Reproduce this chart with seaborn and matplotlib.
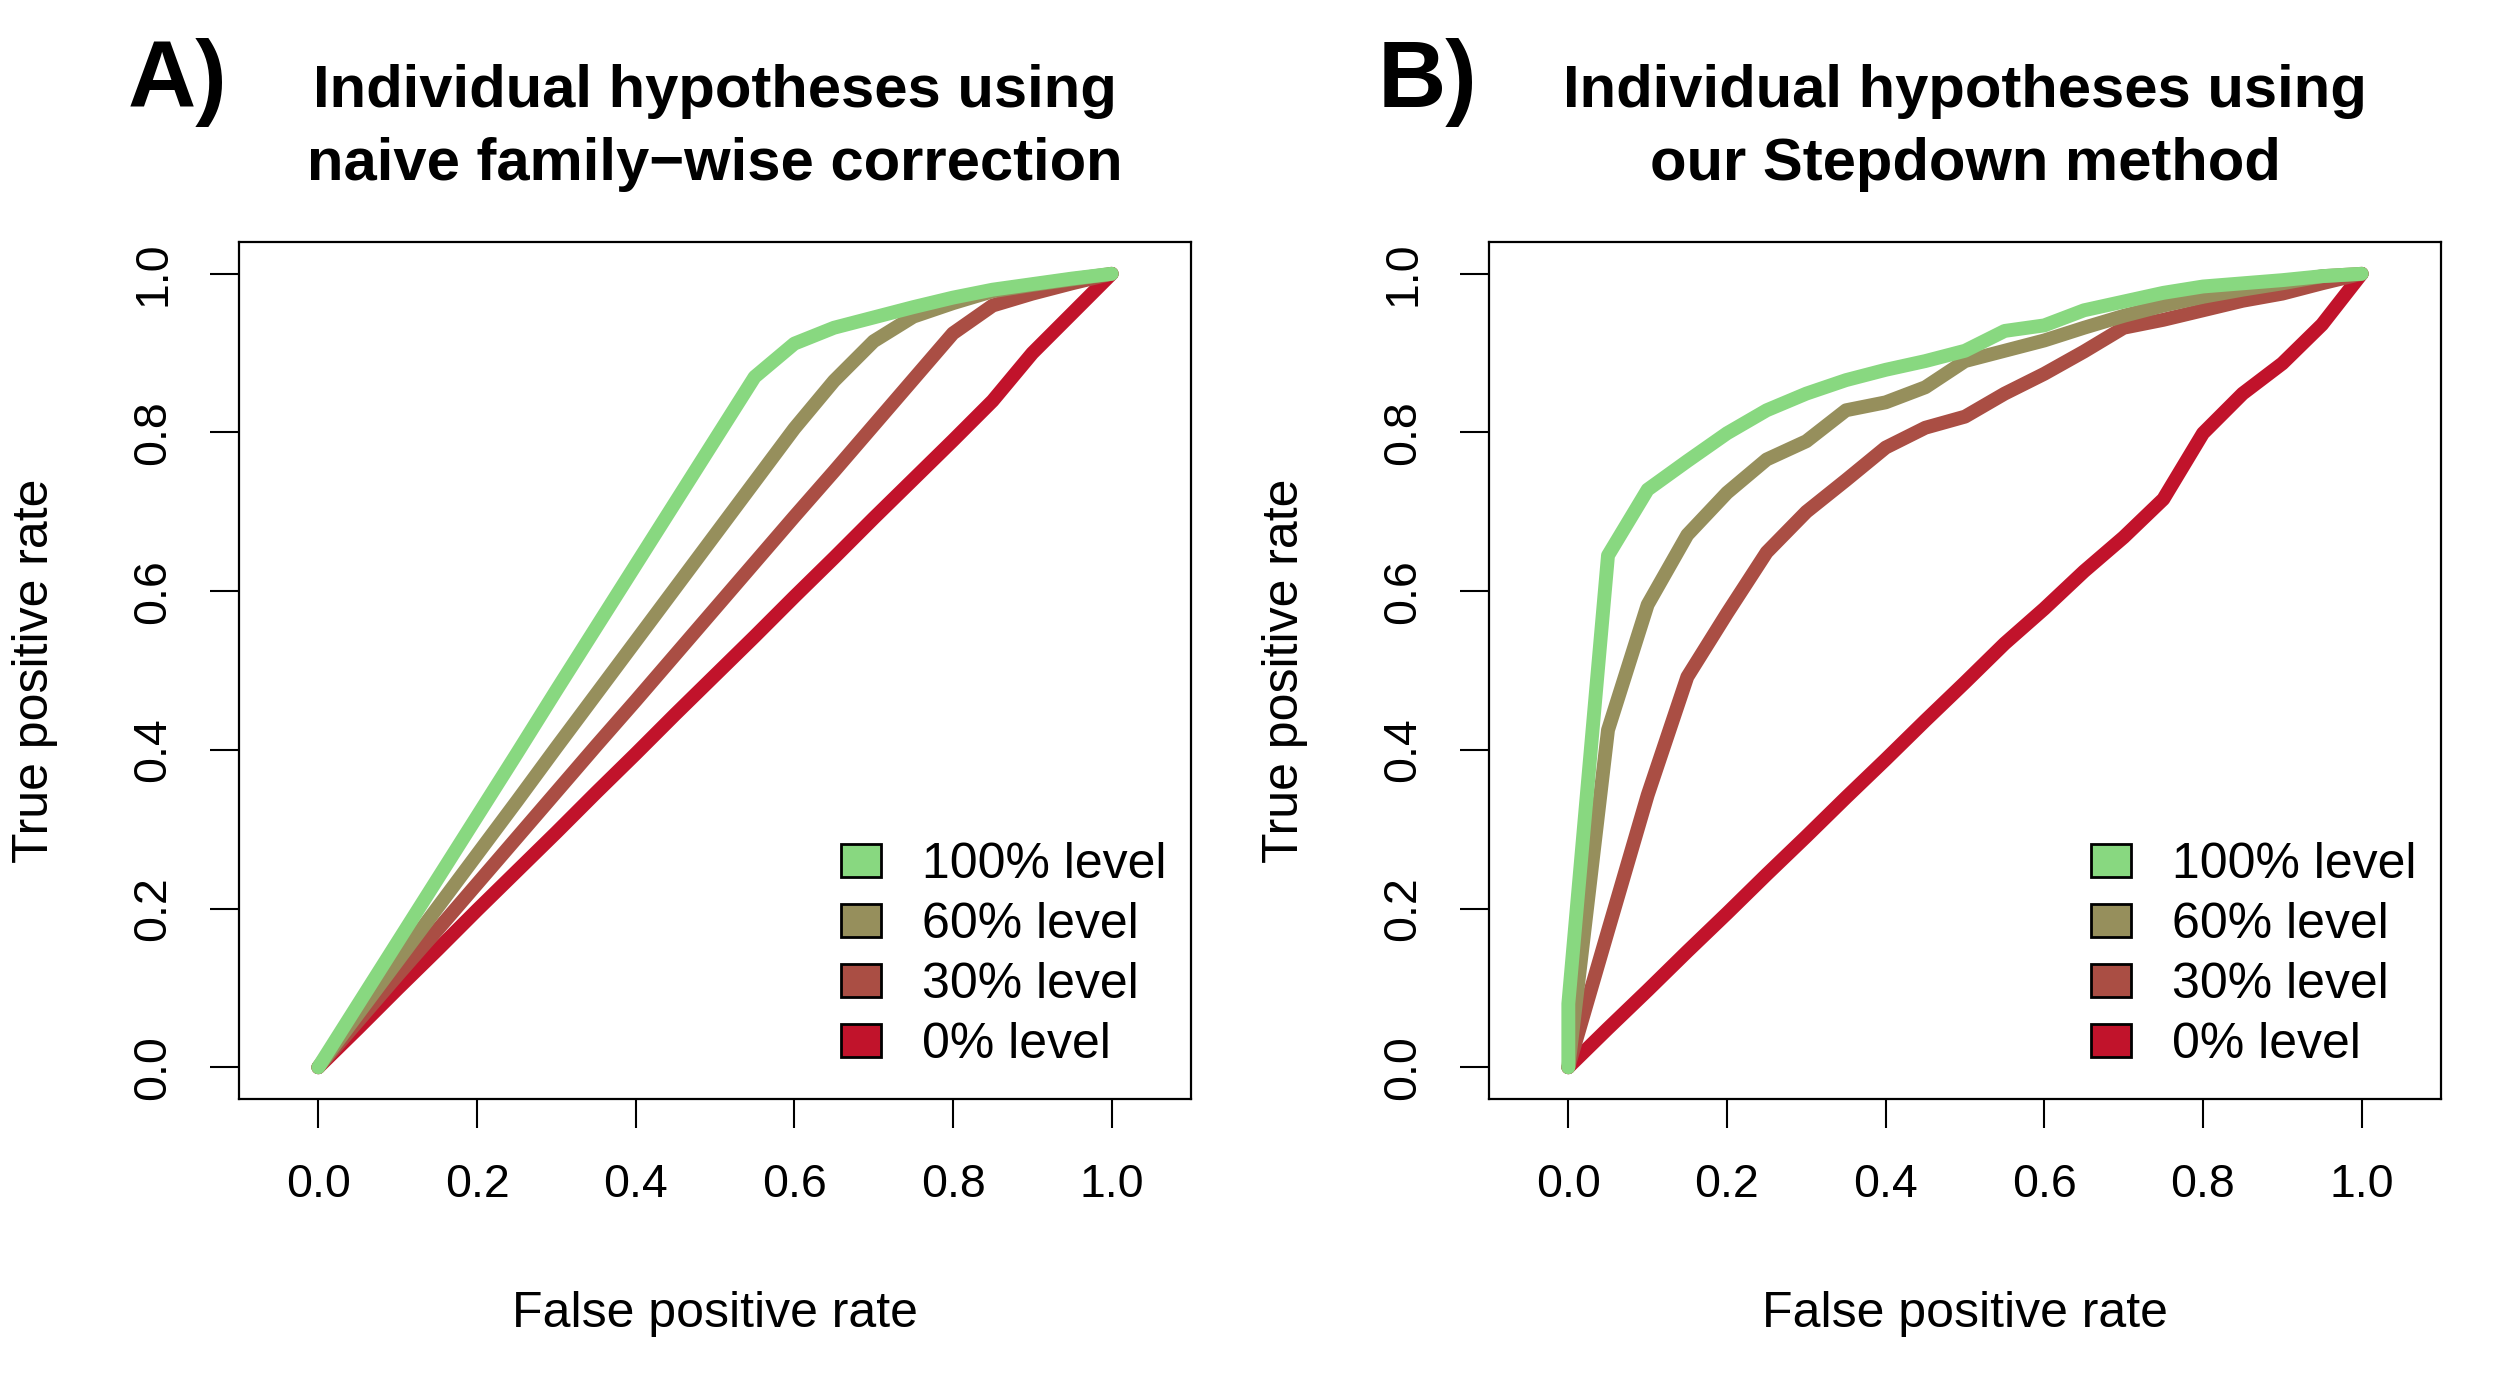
import matplotlib
matplotlib.use("Agg")
import matplotlib.pyplot as plt
from matplotlib.patches import Patch
import numpy as np
import pandas as pd
import seaborn as sns

# Niveles (orden de la leyenda) y colores
LEVELS = ["100% level", "60% level", "30% level", "0% level"]
COLORS = ["#88D880", "#968F5C", "#AA4E44", "#C1132B"]

TITLES = ["Individual hypotheses using\nnaive family\u2212wise correction",
          "Individual hypotheses using\nour Stepdown method"]
PANEL_TAGS = ["A)", "B)"]

TICKS = [0.0, 0.2, 0.4, 0.6, 0.8, 1.0]
TICK_LABELS = ["0.0", "0.2", "0.4", "0.6", "0.8", "1.0"]

# Tasa de falsos positivos (rejilla comun)
FPR = [0.0, 0.05, 0.1, 0.15, 0.2, 0.25, 0.3, 0.35, 0.4, 0.45, 0.5,
       0.55, 0.6, 0.65, 0.7, 0.75, 0.8, 0.85, 0.9, 0.95, 1.0]

# Panel A: correccion family-wise ingenua
A_100 = [0, 0.079, 0.158, 0.237, 0.316, 0.395, 0.475, 0.554, 0.633, 0.712, 0.791,
         0.87, 0.912, 0.932, 0.945, 0.958, 0.970, 0.980, 0.987, 0.994, 1.0]
A_60 = [0, 0.067, 0.134, 0.201, 0.268, 0.335, 0.403, 0.47, 0.537, 0.604, 0.671,
        0.738, 0.805, 0.865, 0.915, 0.946, 0.963, 0.978, 0.986, 0.993, 1.0]
A_30 = [0, 0.058, 0.116, 0.173, 0.231, 0.289, 0.347, 0.405, 0.462, 0.52, 0.578,
        0.636, 0.694, 0.751, 0.809, 0.867, 0.925, 0.96, 0.975, 0.988, 1.0]
A_0 = [0, 0.049, 0.099, 0.148, 0.198, 0.247, 0.296, 0.346, 0.395, 0.445, 0.494,
       0.543, 0.593, 0.642, 0.692, 0.741, 0.79, 0.84, 0.9, 0.95, 1.0]

# Panel B: metodo Stepdown (la curva 100% tiene un punto extra en x=0)
B_100_FPR = [0.0, 0.0, 0.05, 0.1, 0.15, 0.2, 0.25, 0.3, 0.35, 0.4, 0.45, 0.5,
             0.55, 0.6, 0.65, 0.7, 0.75, 0.8, 0.85, 0.9, 0.95, 1.0]
B_100 = [0, 0.08, 0.645, 0.728, 0.764, 0.799, 0.828, 0.849, 0.866, 0.879, 0.89,
         0.903, 0.928, 0.935, 0.954, 0.965, 0.976, 0.984, 0.988, 0.992, 0.997, 1.0]
B_60 = [0, 0.425, 0.583, 0.671, 0.724, 0.766, 0.789, 0.828, 0.838, 0.857, 0.89,
        0.903, 0.916, 0.932, 0.947, 0.96, 0.971, 0.98, 0.988, 0.997, 1.0]
B_30 = [0, 0.172, 0.343, 0.492, 0.572, 0.649, 0.70, 0.74, 0.781, 0.806, 0.82,
        0.849, 0.874, 0.902, 0.932, 0.942, 0.954, 0.966, 0.975, 0.988, 1.0]
B_0 = [0, 0.049, 0.097, 0.146, 0.194, 0.243, 0.291, 0.34, 0.388, 0.437, 0.485,
       0.534, 0.578, 0.625, 0.668, 0.716, 0.799, 0.849, 0.887, 0.936, 1.0]


def make_frame(curves):
    parts = []
    for level, (x, y) in curves.items():
        parts.append(pd.DataFrame({"fpr": x, "tpr": y, "level": level}))
    return pd.concat(parts, ignore_index=True)


panel_data = [
    make_frame({"100% level": (FPR, A_100), "60% level": (FPR, A_60),
                "30% level": (FPR, A_30), "0% level": (FPR, A_0)}),
    make_frame({"100% level": (B_100_FPR, B_100), "60% level": (FPR, B_60),
                "30% level": (FPR, B_30), "0% level": (FPR, B_0)}),
]

sns.set_style("ticks")
plt.rcParams["font.family"] = ["Liberation Sans", "DejaVu Sans"]
plt.rcParams["text.color"] = "black"
plt.rcParams["axes.labelcolor"] = "black"
plt.rcParams["xtick.color"] = "black"
plt.rcParams["ytick.color"] = "black"

palette = dict(zip(LEVELS, COLORS))
draw_order = LEVELS[::-1]  # el rojo debajo, el verde encima

fig = plt.figure(figsize=(25, 14), dpi=100)
ax_pos = [[0.0956, 0.215, 0.3808, 0.6121], [0.5956, 0.215, 0.3808, 0.6121]]

for i, df in enumerate(panel_data):
    ax = fig.add_axes(ax_pos[i])
    sns.lineplot(data=df, x="fpr", y="tpr", hue="level", hue_order=draw_order,
                 palette=palette, estimator=None, sort=False, linewidth=10,
                 solid_capstyle="round", solid_joinstyle="round",
                 legend=False, ax=ax)

    ax.set_xlim(-0.1, 1.1)
    ax.set_ylim(-0.04, 1.04)
    ax.set_xticks(TICKS)
    ax.set_xticklabels(TICK_LABELS)
    ax.set_yticks(TICKS)
    ax.set_yticklabels(TICK_LABELS, rotation=90, va="center")
    ax.tick_params(axis="both", direction="out", length=21, width=1.5,
                   labelsize=33.5, color="black", labelcolor="black")
    ax.tick_params(axis="x", pad=25)
    ax.tick_params(axis="y", pad=25)
    for sp in ax.spines.values():
        sp.set_visible(True)
        sp.set_linewidth(1.6)
        sp.set_color("black")

    ax.set_xlabel("False positive rate", fontsize=36)
    ax.set_ylabel("True positive rate", fontsize=36)
    ax.xaxis.set_label_coords(0.5, -0.224)
    ax.yaxis.set_label_coords(-0.19, 0.5)

    ax.set_title(TITLES[i], fontsize=43, fontweight="bold", linespacing=1.4,
                 pad=45, color="black")

    handles = [Patch(facecolor=c, edgecolor="black", linewidth=2) for c in COLORS]
    ax.legend(handles, LEVELS, loc="upper left", bbox_to_anchor=(0.632, 0.30),
              frameon=False, fontsize=36, handlelength=0.8, handleheight=0.64,
              handletextpad=0.83, labelspacing=0.28, borderpad=0,
              borderaxespad=0)

    fig.text(0.0512 + i * 0.5, 0.9236, PANEL_TAGS[i], fontsize=68,
             fontweight="bold", ha="left", va="baseline", color="black")

fig.savefig("out.png", dpi=100)
